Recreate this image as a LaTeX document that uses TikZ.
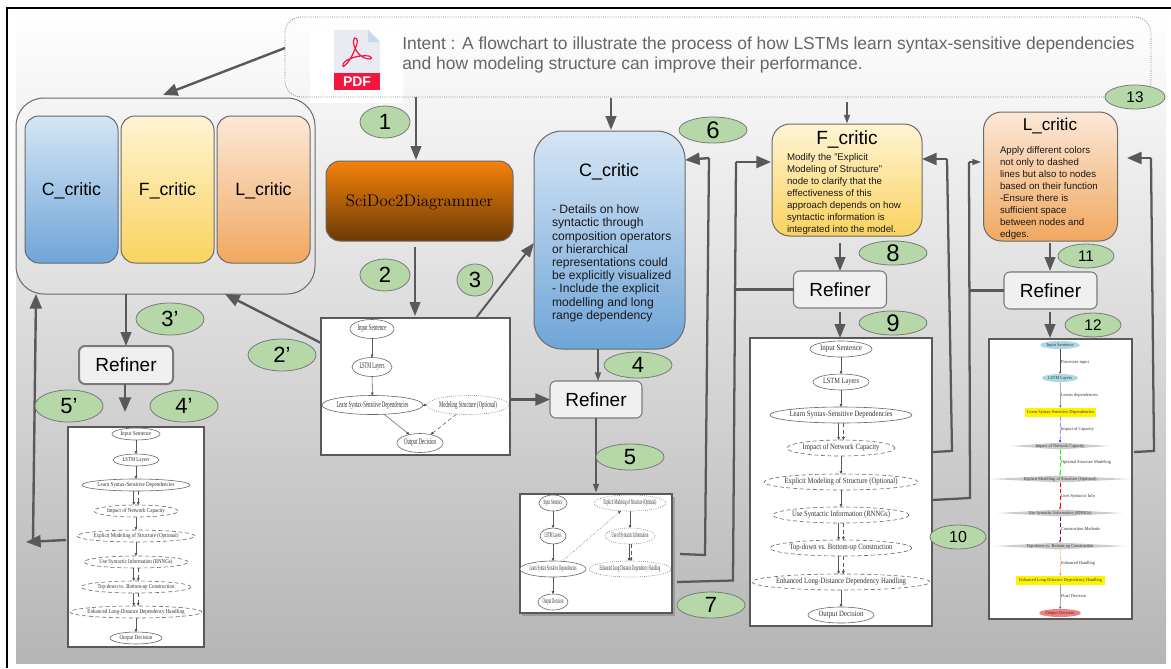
\documentclass[tikz,border=0pt]{standalone}
\usepackage{fontspec}
\usepackage{graphicx}
\setsansfont{Liberation Sans}
\newfontfamily\graphfont{Liberation Serif}
\usetikzlibrary{arrows.meta,shapes.geometric}
\definecolor{ln}{HTML}{595959}
\definecolor{edgec}{HTML}{666666}
\definecolor{grn}{HTML}{B6D7A8}
\definecolor{gtx}{HTML}{333333}
\definecolor{ctop}{HTML}{D5E5F5}
\definecolor{cbot}{HTML}{6FA5D8}
\definecolor{ftop}{HTML}{FFF4D4}
\definecolor{fbot}{HTML}{FAD25F}
\definecolor{ltop}{HTML}{FCE8D8}
\definecolor{lbot}{HTML}{F0A860}
\definecolor{stop}{HTML}{F5820A}
\definecolor{sbot}{HTML}{6B3A06}
\definecolor{pdfred}{HTML}{F5153F}
\definecolor{pdfpage}{HTML}{E8ECF2}
\definecolor{pdffold}{HTML}{C8D8EA}
\newlength\pxu \setlength\pxu{0.75pt}
\newcommand\fsz[2]{\fontsize{#1}{#2}\selectfont}
% style,name,x,y,rx,ry,fontpt,textwidth,text
\newcommand\gn[9]{\node[#1,minimum width=#5*1.5pt,minimum height=#6*1.5pt] (#2) at (#3,#4) {};
 \node[gtext] (#2t) at (#3,#4) {\resizebox{#8\pxu}{\height}{\fontsize{#7}{#7}\graphfont #9}};}
\newcommand\num[6]{\node[numel,minimum width=#4*1.5pt,minimum height=#5*1.5pt] (#1) at (#2,#3) {\fsz{#6}{#6}#1};}
\tikzset{
 sz/.style 2 args={minimum width=#1*0.75pt,minimum height=#2*0.75pt,inner sep=0pt,outer sep=0pt},
 rc/.style={rounded corners=#1*0.75pt},
 critic/.style={draw=ln!90,line width=0.75pt,text depth=0pt},
 cblue/.style={top color=ctop,bottom color=cbot},
 cyell/.style={top color=ftop,bottom color=fbot},
 corng/.style={top color=ltop,bottom color=lbot},
 numel/.style={ellipse,draw=ln!80,fill=grn,line width=0.6pt,inner sep=0pt,text=black,font=\sffamily},
 refiner/.style={rectangle,draw=ln!80,fill=black!6,line width=0.8pt,rc=6,font=\sffamily\fsz{14.25}{17}},
 gtext/.style={inner sep=0pt,outer sep=0pt,text=gtx},
 gel/.style={ellipse,draw=edgec,line width=0.45pt,fill=white,inner sep=0pt,outer sep=0pt},
 gdash/.style={gel,densely dashed},
 gdot/.style={gel,densely dotted},
 gedge/.style={draw=black!65,line width=0.4pt,-{Triangle[length=2.2pt,width=2pt,fill=black]}},
 cedge/.style={line width=0.2pt,-{Triangle[length=1.6pt,width=1.4pt]}},
 elab/.style={inner sep=0pt,outer sep=0pt,anchor=west,text=gtx},
 sheet/.style={rectangle,draw=ln,line width=0.8pt,fill=white,inner sep=0pt,outer sep=0pt},
 conn/.style={draw=ln,line width=1.8pt,-{Triangle[length=11pt,width=9pt]}},
 connm/.style={draw=ln,line width=1.5pt,-{Triangle[length=10.5pt,width=8pt]}},
 conns/.style={draw=ln,line width=1pt,-{Triangle[length=6.5pt,width=4.5pt]}},
 stem/.style={draw=ln,line width=1.7pt},
 body/.style={inner sep=0pt,outer sep=0pt,anchor=north west,align=left,font=\sffamily,text=black!90},
 title/.style={inner sep=0pt,outer sep=0pt,font=\sffamily,text=black,text depth=0pt},
}
\begin{document}
\begin{tikzpicture}[x=0.75pt,y=-0.75pt]
\useasboundingbox (0,0) rectangle (1171,668);
\fill[white] (0,0) rectangle (1171,668);
\node[rectangle,sz={1150}{654},top color=white,bottom color=black!29,draw=none] (bg) at (591,336) {};
\draw[black,line width=1.1pt] (7,668) -- (7,8) -- (1171,8);
% intent
\fill[white] (310,32) rectangle (403,103);
\node[rectangle,sz={866}{80},draw=ln!80,densely dotted,line width=0.6pt,rc=16] (intent) at (718,57) {};
\fill[pdfpage] (334,30) -- (368,30) -- (380,42) -- (380,90) -- (334,90) -- cycle;
\fill[pdffold] (368,30) -- (380,42) -- (368,42) -- cycle;
\node[rectangle,sz={46}{17},fill=pdfred] (pdfbar) at (357,81.5) {\color{white}\sffamily\bfseries\fsz{10.5}{12}PDF};
\draw[pdfred,line width=0.9pt] (344,66) .. controls (350,62) and (354,52) .. (357,44) .. controls (358,39) and (356,37) .. (354.5,38) .. controls (352,40) and (354,50) .. (360,55) .. controls (364,59) and (371,60) .. (371.5,58) .. controls (372,55) and (360,55) .. (352,58) .. controls (346,60) and (342,63) .. (343,66) .. controls (343.5,67) and (344,66.5) .. cycle;
\node[inner sep=0pt,anchor=west,align=left,text=black!60,font=\sffamily\fsz{13.08}{15.7}] (intenttxt) at (402,55) {Intent : A flowchart to illustrate the process of how LSTMs learn syntax-sensitive dependencies\\and how modeling structure can improve their performance.};
% group
\node[rectangle,sz={299}{196},draw=ln!90,line width=0.75pt,rc=28] (group) at (165.5,196) {};
\node[rectangle,critic,sz={93}{147},rc=14,cblue] (gc) at (71.5,189.5) {\sffamily\fsz{13.3}{15}C\_critic};
\node[rectangle,critic,sz={93}{147},rc=14,cyell] (gf) at (167.5,189.5) {\sffamily\fsz{13.3}{15}F\_critic};
\node[rectangle,critic,sz={93}{147},rc=14,corng] (gl) at (263.5,189.5) {\sffamily\fsz{13.3}{15}L\_critic};
% scidoc
\node[rectangle,critic,sz={187}{80},rc=14,top color=stop,bottom color=sbot] (sci) at (419.5,201) {\rmfamily\fsz{12.6}{14}SciDoc\oldstylenums{2}Diagrammer};
% C critic
\node[rectangle,critic,sz={151}{218},rc=28,cblue] (cc) at (609.5,240) {};
\node[title,font=\sffamily\fsz{13.5}{15}] (cctitle) at (609,170) {C\_critic};
\node[body,font=\sffamily\fsz{9.1}{9.9}] (ccbody) at (552,205) {- Details on how\\syntactic through\\composition operators\\or hierarchical\\representations could\\be explicitly visualized\\- Include the explicit\\modelling and long\\range dependency};
% F critic
\node[rectangle,critic,sz={150}{112},rc=18,cyell] (fc) at (847,180) {};
\node[title,font=\sffamily\fsz{14.3}{15}] (fctitle) at (847,138) {F\_critic};
\node[body,font=\sffamily\fsz{7.25}{9}] (fcbody) at (787,153) {Modify the "Explicit\\Modeling of Structure"\\node to clarify that the\\effectiveness of this\\approach depends on how\\syntactic information is\\integrated into the model.};
% L critic
\node[rectangle,critic,sz={134}{129},rc=18,corng] (lc) at (1050.5,176.5) {};
\node[title,font=\sffamily\fsz{12.8}{15}] (lctitle) at (1050,124) {L\_critic};
\node[body,font=\sffamily\fsz{7.25}{9}] (lcbody) at (1000,146.5) {Apply different colors\\not only to dashed\\lines but also to nodes\\based on their function\\-Ensure there is\\sufficient space\\between nodes and\\edges.};
% refiners
\node[refiner,sz={94}{38},line width=1.5pt] (r1) at (126,365) {Refiner};
\node[refiner,sz={92}{37}] (r2) at (596,399.5) {Refiner};
\node[refiner,sz={93}{37}] (r3) at (840,289.5) {Refiner};
\node[refiner,sz={93}{37}] (r4) at (1050.5,290.5) {Refiner};
% D1
\node[sheet,sz={189}{137}] (d1) at (415.5,386.5) {};
\gn{gel}{a1}{372}{329}{22}{9.5}{6.5}{29}{Input Sentence}
\gn{gel}{a2}{372}{367}{20}{9.5}{6.5}{25}{LSTM Layers}
\gn{gel}{a3}{372.5}{405}{50.5}{9.5}{6.5}{72}{Learn Syntax-Sensitive Dependencies}
\gn{gdot}{a4}{468}{405}{41}{9.5}{6.5}{58}{Modeling Structure (Optional)}
\gn{gel}{a5}{420}{443}{23}{9.5}{6.5}{32}{Output Decision}
\draw[gedge] (a1) -- (a2);
\draw[gedge] (a2) -- (a3);
\draw[gedge] (a3) -- (a4);
\draw[gedge] (a3) -- (a5);
\draw[gedge,densely dashed] (a4) -- (a5);
% D2
\node[sheet,sz={136}{220}] (d2) at (136,537) {};
\gn{gel}{b1}{136}{434}{24}{6}{4.5}{31}{Input Sentence}
\gn{gel}{b2}{136}{460}{23}{6}{4.5}{27}{LSTM Layers}
\gn{gel}{b3}{136}{485}{54}{6}{4.5}{77}{Learn Syntax-Sensitive Dependencies}
\gn{gdash}{b4}{136}{511}{42}{6}{4.5}{58}{Impact of Network Capacity}
\gn{gdash}{b5}{136}{536}{59}{6}{4.5}{85}{Explicit Modeling of Structure (Optional)}
\gn{gdash}{b6}{136}{562}{52}{6}{4.5}{73}{Use Syntactic Information (RNNGs)}
\gn{gdash}{b7}{136}{587}{55}{6}{4.5}{77}{Top-down vs. Bottom-up Construction}
\gn{gdash}{b8}{136}{612}{66}{6}{4.5}{97}{Enhanced Long-Distance Dependency Handling}
\gn{gel}{b9}{136}{638}{26}{6}{4.5}{33}{Output Decision}
\draw[gedge] (b1) -- (b2);
\draw[gedge] (b2) -- (b3);
\draw[gedge] ([xshift=-1.7pt]b3.south) -- ([xshift=-1.7pt]b4.north);
\draw[gedge,densely dashed] ([xshift=1.7pt]b3.south) -- ([xshift=1.7pt]b4.north);
\draw[gedge] (b4) -- (b5);
\draw[gedge] (b5) -- (b6);
\draw[gedge] ([xshift=-1.7pt]b6.south) -- ([xshift=-1.7pt]b7.north);
\draw[gedge,densely dashed] ([xshift=1.7pt]b6.south) -- ([xshift=1.7pt]b7.north);
\draw[gedge] ([xshift=-1.7pt]b7.south) -- ([xshift=-1.7pt]b8.north);
\draw[gedge,densely dashed] ([xshift=1.7pt]b7.south) -- ([xshift=1.7pt]b8.north);
\draw[gedge] (b8) -- (b9);
% D3
\fill[black!55,opacity=.45] (522,497) rectangle (674.5,615.5);
\node[sheet,sz={152}{119}] (d3) at (596,553.5) {};
\gn{gel}{c1}{553}{503}{14}{8}{5.5}{19}{Input Sentence}
\gn{gel}{c2}{553}{536}{13}{8}{5.5}{17}{LSTM Layers}
\gn{gel}{c3}{553}{569}{33}{8}{5.5}{47}{Learn Syntax Sensitive Dependencies}
\gn{gel}{c4}{553}{602}{15}{8}{5.5}{21}{Output Decision}
\gn{gdot}{c5}{630}{503}{36}{8}{5.5}{53}{Explicit Modeling of Structure (Optional)}
\gn{gdot}{c6}{630}{536}{25}{8}{5.5}{37}{Use of Syntactic Information}
\gn{gdot}{c7}{630}{569}{41}{8}{5.5}{61}{Enhanced Long Distance Dependency Handling}
\draw[gedge] (c1) -- (c2);
\draw[gedge] (c2) -- (c3);
\draw[gedge] (c3) -- (c4);
\draw[gedge,densely dotted] (c3) -- (c5);
\draw[gedge] (c5) -- (c6);
\draw[gedge] ([xshift=-.8pt]c6.south) -- ([xshift=-.8pt]c7.north);
\draw[gedge,densely dashed] ([xshift=.8pt]c6.south) -- ([xshift=.8pt]c7.north);
% D4
\node[sheet,sz={182}{288}] (d4) at (841,482) {};
\gn{gel}{e1}{841}{349}{31}{8}{6}{42}{Input Sentence}
\gn{gel}{e2}{841}{382}{28}{8}{6}{36}{LSTM Layers}
\gn{gel}{e3}{841}{415}{71}{8}{6}{103}{Learn Syntax-Sensitive Dependencies}
\gn{gdash}{e4}{841}{448}{54}{8}{6}{77}{Impact of Network Capacity}
\gn{gdash}{e5}{841}{482}{77}{8}{6}{113}{Explicit Modeling of Structure (Optional)}
\gn{gdash}{e6}{841}{515}{68}{8}{6}{98}{Use Syntactic Information (RNNGs)}
\gn{gdash}{e7}{841}{548}{71}{8}{6}{103}{Top-down vs. Bottom-up Construction}
\gn{gdash}{e8}{841}{582}{89}{8}{6}{130}{Enhanced Long-Distance Dependency Handling}
\gn{gel}{e9}{841}{615}{33}{8}{6}{45}{Output Decision}
\draw[gedge] (e1) -- (e2);
\draw[gedge] (e2) -- (e3);
\draw[gedge] ([xshift=-1.8pt]e3.south) -- ([xshift=-1.8pt]e4.north);
\draw[gedge,densely dashed] ([xshift=1.8pt]e3.south) -- ([xshift=1.8pt]e4.north);
\draw[gedge] (e4) -- (e5);
\draw[gedge] (e5) -- (e6);
\draw[gedge] ([xshift=-1.8pt]e6.south) -- ([xshift=-1.8pt]e7.north);
\draw[gedge,densely dashed] ([xshift=1.8pt]e6.south) -- ([xshift=1.8pt]e7.north);
\draw[gedge] ([xshift=-1.8pt]e7.south) -- ([xshift=-1.8pt]e8.north);
\draw[gedge,densely dashed] ([xshift=1.8pt]e7.south) -- ([xshift=1.8pt]e8.north);
\draw[gedge] (e8) -- (e9);
% D5
\node[sheet,sz={143}{280}] (d5) at (1060.5,479) {};
\definecolor{lb}{HTML}{ADD8E6}
\definecolor{lc2}{HTML}{F08080}
\tikzset{dia/.style={diamond,fill=black!20,inner sep=0pt,outer sep=0pt,draw=none,aspect=8},
 yrec/.style={rectangle,fill=yellow,inner sep=0pt,outer sep=0pt,draw=none},
 cel/.style={ellipse,inner sep=0pt,outer sep=0pt,draw=none}}
\gn{cel,fill=lb}{f1}{1060}{345}{20}{4}{3.4}{27}{Input Sentence}
\gn{cel,fill=lb}{f2}{1060}{378}{18}{4}{3.4}{24}{LSTM Layers}
\gn{yrec}{f3}{1060.5}{412}{35.5}{4.5}{3.4}{67}{Learn Syntax-Sensitive Dependencies}
\gn{dia}{f4}{1060}{446}{49}{3.5}{3.4}{49}{Impact of Network Capacity}
\gn{dia}{f5}{1060}{479}{70}{3.5}{3.4}{73}{Explicit Modeling of Structure (Optional)}
\gn{dia}{f6}{1060}{513}{62}{3.5}{3.4}{63}{Use Syntactic Information (RNNGs)}
\gn{dia}{f7}{1060}{546}{65}{3.5}{3.4}{67}{Top-down vs. Bottom-up Construction}
\gn{yrec}{f8}{1060.5}{580}{44.5}{4.5}{3.4}{83}{Enhanced Long-Distance Dependency Handling}
\gn{cel,fill=lc2}{f9}{1060}{613}{21}{4}{3.4}{29}{Output Decision}
\draw[cedge,draw=black!70,fill=black] (f1) -- (f2);
\draw[cedge,draw=black!70,fill=black] (f2) -- (f3);
\draw[cedge,draw=blue,fill=blue,densely dashed] (f3) -- (f4);
\draw[cedge,draw=green,fill=green,densely dashed] (f4) -- (f5);
\draw[cedge,draw=red,fill=red,densely dashed] (f5) -- (f6);
\draw[cedge,draw=violet,fill=violet,densely dashed] (f6) -- (f7);
\draw[cedge,draw=orange,fill=orange,densely dashed] (f7) -- (f8);
\draw[cedge,draw=black!70,fill=black] (f8) -- (f9);
\newcommand\elb[4]{\node[elab] (#1) at (1061,#2) {\resizebox{#3\pxu}{\height}{\fontsize{3.4}{3.4}\graphfont #4}};}
\elb{l1}{362}{28}{Processes input}
\elb{l2}{395}{37}{Learns dependencies}
\elb{l3}{429}{33}{Impact of Capacity}
\elb{l4}{462}{50}{Optional Structure Modeling}
\elb{l5}{496}{34}{Uses Syntactic Info}
\elb{l6}{529}{39}{Construction Methods}
\elb{l7}{563}{34}{Enhanced Handling}
\elb{l8}{596}{25}{Final Decision}
% connectors
\coordinate (j1) at (33,540);
\coordinate (j2) at (705,555);
\coordinate (j3) at (709,158);
\coordinate (j4) at (733,580.5);
\coordinate (j5) at (736,162);
\coordinate (j6) at (952,451);
\coordinate (j7) at (947,159);
\coordinate (j8) at (970,498);
\coordinate (j9) at (969,162);
\coordinate (j10) at (1154,451);
\coordinate (j11) at (1151,158);
\coordinate (s1) at (163,95);
\coordinate (s2) at (285,48);
\coordinate (s3) at (225,294);
\coordinate (s4) at (321,343);
\coordinate (s5) at (476,318);
\coordinate (s6) at (534,243);
\coordinate (s7) at (66,540);
\coordinate (s8) at (26,542);
\coordinate (s9) at (36,294);
\coordinate (s10) at (680,554);
\coordinate (s11) at (685,160);
\coordinate (s12) at (677,582);
\coordinate (s13) at (771,162);
\coordinate (s14) at (933,452);
\coordinate (s15) at (922,159);
\coordinate (s16) at (932,500);
\coordinate (s17) at (981,162);
\coordinate (s18) at (1134,452);
\coordinate (s19) at (1127,158);
\draw[conn] (s2) -- (s1);
\draw[connm] (416,97) -- (416,160);
\draw[connm] (415,247) -- (415,316);
\draw[connm] (s5) -- (s6);
\draw[conn] (s4) -- (s3);
\draw[connm] (126,294) -- (126,346);
\draw[conn] (125,384) -- (125,412);
\draw[conn] (s7) -- (s8);
\draw[conn] (j1) -- (s9);
\draw[conns] (598,349) -- (598,381);
\draw[conn] (d1.east |- r2.west) -- (r2.west);
\draw[conns] (596,418) -- (596,492.5);
\draw[stem] (s10) -- (j2) -- (j3);
\draw[conn] (j3) -- (s11);
\draw[stem] (s12) -- (j4) -- (j5);
\draw[conn] (j5) -- (s13);
\draw[stem] (r3.west) -- (j5 |- r3.west);
\draw[connm] (840,243) -- (840,271);
\draw[connm] (840,312) -- (840,338);
\draw[stem] (s14) -- (j6) -- (j7);
\draw[conn] (j7) -- (s15);
\draw[stem] (s16) -- (j8) -- (j9);
\draw[conns] (j9) -- (s17);
\draw[stem] (r4.west) -- (j9 |- r4.west);
\draw[connm] (1050,243) -- (1050,271);
\draw[connm] (1050,312) -- (1050,338);
\draw[stem] (s18) -- (j10) -- (j11);
\draw[conn] (j11) -- (s19);
\draw[connm] (611,98) -- (611,130);
\draw[conns] (847,102) -- (847,123.5);
% numbers
\num{1}{385}{122}{25}{16}{16.5}
\num{2}{385}{275}{25}{16}{16.5}
\num{3}{475}{280}{18}{16}{16.5}
\num{3'}{170}{319}{34}{16}{16.5}
\num{2'}{282}{355}{34}{16}{16.5}
\num{5'}{69}{406}{34}{16}{16.5}
\num{4'}{184}{406}{34}{16}{16.5}
\num{4}{638}{365}{34}{13}{16.5}
\num{5}{630}{457}{34}{13}{16.5}
\num{7}{711}{605}{34}{13}{16.5}
\num{6}{713}{130}{34}{13}{18}
\num{8}{893}{253}{34}{12}{18}
\num{9}{893}{323}{34}{12}{18}
\num{10}{958}{537}{28}{12}{12}
\num{11}{1086}{256}{28}{12}{11.5}
\num{12}{1093}{325}{28}{12}{11.5}
\num{13}{1135}{97}{30}{12}{11.5}
\end{tikzpicture}
\end{document}
